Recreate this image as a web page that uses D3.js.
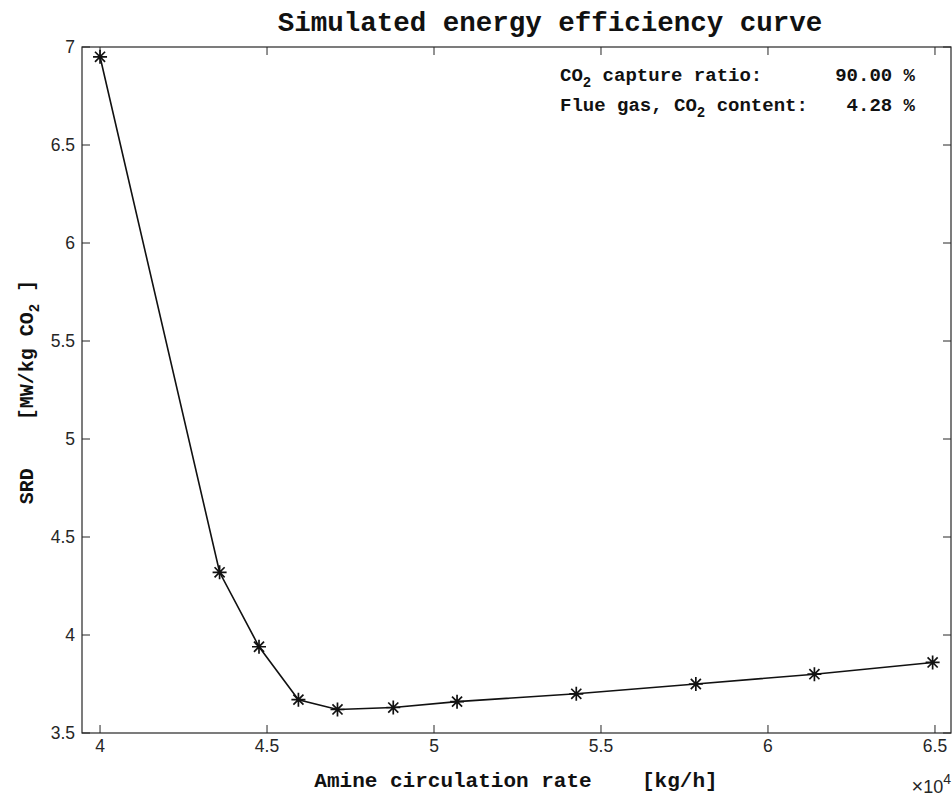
<!DOCTYPE html>
<html lang="en">
<head>
<meta charset="utf-8">
<title>Simulated energy efficiency curve</title>
<script src="https://cdn.jsdelivr.net/npm/d3@7"></script>
<style>
  html, body { margin: 0; padding: 0; background: #fff; }
  .mono { font-family: "Liberation Mono", "DejaVu Sans Mono", monospace; font-weight: bold; fill: #111; }
  .tick-label { font-family: "Liberation Sans", Arial, sans-serif; font-size: 17.5px; fill: #262626; }
</style>
</head>
<body>
<div id="chart"></div>
<script>
// data
const flowRate = [40000, 43580, 44760, 45940, 47110, 48780, 50690, 54260, 57840, 61390, 64930]; // kg/h
const srd = [6.95, 4.32, 3.94, 3.67, 3.62, 3.63, 3.66, 3.70, 3.75, 3.80, 3.86]; // MW/kg CO2
const xTicks = [40000, 45000, 50000, 55000, 60000, 65000];
const yTicks = [3.5, 4, 4.5, 5, 5.5, 6, 6.5, 7];
const infoLabels = [["CO", "2", " capture ratio:"], ["Flue gas, CO", "2", " content:"]];
const infoValues = ["90.00 %", "4.28 %"];

const W = 952, H = 798;
const plotLeft = 82, plotRight = 951, plotTop = 47, plotBottom = 733;

const svg = d3.select("#chart").append("svg")
    .attr("width", W).attr("height", H);

const x = d3.scaleLinear().domain([39460, 65480]).range([plotLeft, plotRight]);
const y = d3.scaleLinear().domain([3.5, 7]).range([plotBottom, plotTop]);

// frame
svg.append("rect")
    .attr("x", plotLeft).attr("y", plotTop)
    .attr("width", plotRight - plotLeft).attr("height", plotBottom - plotTop)
    .attr("fill", "none").attr("stroke", "#262626").attr("stroke-width", 1.2);

const tickLen = 8;
// x ticks (bottom + top, pointing inward)
xTicks.forEach(function (t) {
    svg.append("line").attr("x1", x(t)).attr("x2", x(t)).attr("y1", plotBottom).attr("y2", plotBottom - tickLen)
        .attr("stroke", "#262626");
    svg.append("line").attr("x1", x(t)).attr("x2", x(t)).attr("y1", plotTop).attr("y2", plotTop + tickLen)
        .attr("stroke", "#262626");
    svg.append("text").attr("class", "tick-label")
        .attr("x", x(t)).attr("y", 752).attr("text-anchor", "middle")
        .text(d3.format("~g")(t / 1e4));
});
// y ticks (left + right)
yTicks.forEach(function (t) {
    svg.append("line").attr("x1", plotLeft).attr("x2", plotLeft + tickLen).attr("y1", y(t)).attr("y2", y(t))
        .attr("stroke", "#262626");
    svg.append("line").attr("x1", plotRight).attr("x2", plotRight - tickLen).attr("y1", y(t)).attr("y2", y(t))
        .attr("stroke", "#262626");
    svg.append("text").attr("class", "tick-label")
        .attr("x", plotLeft - 7).attr("y", y(t) + 6).attr("text-anchor", "end")
        .text(d3.format("~g")(t));
});

// x10^4 exponent
const ex = svg.append("text").attr("class", "tick-label")
    .attr("x", 951).attr("y", 793).attr("text-anchor", "end");
ex.append("tspan").attr("font-size", 20).text("\u00d7");
ex.append("tspan").attr("font-size", 18).text("10");
ex.append("tspan").attr("dy", -9).attr("font-size", 14).text("4");

// line
const line = d3.line()
    .x(function (d, i) { return x(flowRate[i]); })
    .y(function (d) { return d; });
svg.append("path")
    .datum(srd.map(function (v) { return y(v); }))
    .attr("d", line)
    .attr("fill", "none").attr("stroke", "#111").attr("stroke-width", 1.6);

// asterisk markers
const r = 7, dg = r * 0.72;
const star = "M0," + (-r) + "V" + r + "M" + (-r) + ",0H" + r +
    "M" + (-dg) + "," + (-dg) + "L" + dg + "," + dg +
    "M" + (-dg) + "," + dg + "L" + dg + "," + (-dg);
svg.append("g").selectAll("path")
    .data(srd)
    .enter().append("path")
    .attr("transform", function (d, i) { return "translate(" + x(flowRate[i]) + "," + y(d) + ")"; })
    .attr("d", star)
    .attr("fill", "none").attr("stroke", "#111").attr("stroke-width", 1.7);

// title
svg.append("text").attr("class", "mono")
    .attr("x", 550).attr("y", 31).attr("text-anchor", "middle")
    .attr("font-size", 27.5)
    .text("Simulated energy efficiency curve");

// info text (top right)
infoLabels.forEach(function (parts, i) {
    const t = svg.append("text").attr("class", "mono")
        .attr("x", 560).attr("y", 81 + i * 30).attr("font-size", 19).attr("xml:space", "preserve");
    t.append("tspan").text(parts[0]);
    t.append("tspan").attr("dy", 6).attr("font-size", 14).text(parts[1]);
    t.append("tspan").attr("dy", -6).text(parts[2]);
    svg.append("text").attr("class", "mono")
        .attr("x", 915).attr("y", 81 + i * 30).attr("font-size", 19).attr("text-anchor", "end")
        .text(infoValues[i]);
});

// axis labels
svg.append("text").attr("class", "mono")
    .attr("x", 516).attr("y", 787).attr("text-anchor", "middle")
    .attr("font-size", 21).attr("xml:space", "preserve")
    .text("Amine circulation rate    [kg/h]");

const yl = svg.append("text").attr("class", "mono")
    .attr("transform", "translate(33,392)rotate(-90)")
    .attr("text-anchor", "middle").attr("font-size", 20).attr("xml:space", "preserve");
yl.append("tspan").text("SRD    [MW/kg CO");
yl.append("tspan").attr("dy", 6).attr("font-size", 14).text("2");
yl.append("tspan").attr("dy", -6).text(" ]");
</script>
</body>
</html>
